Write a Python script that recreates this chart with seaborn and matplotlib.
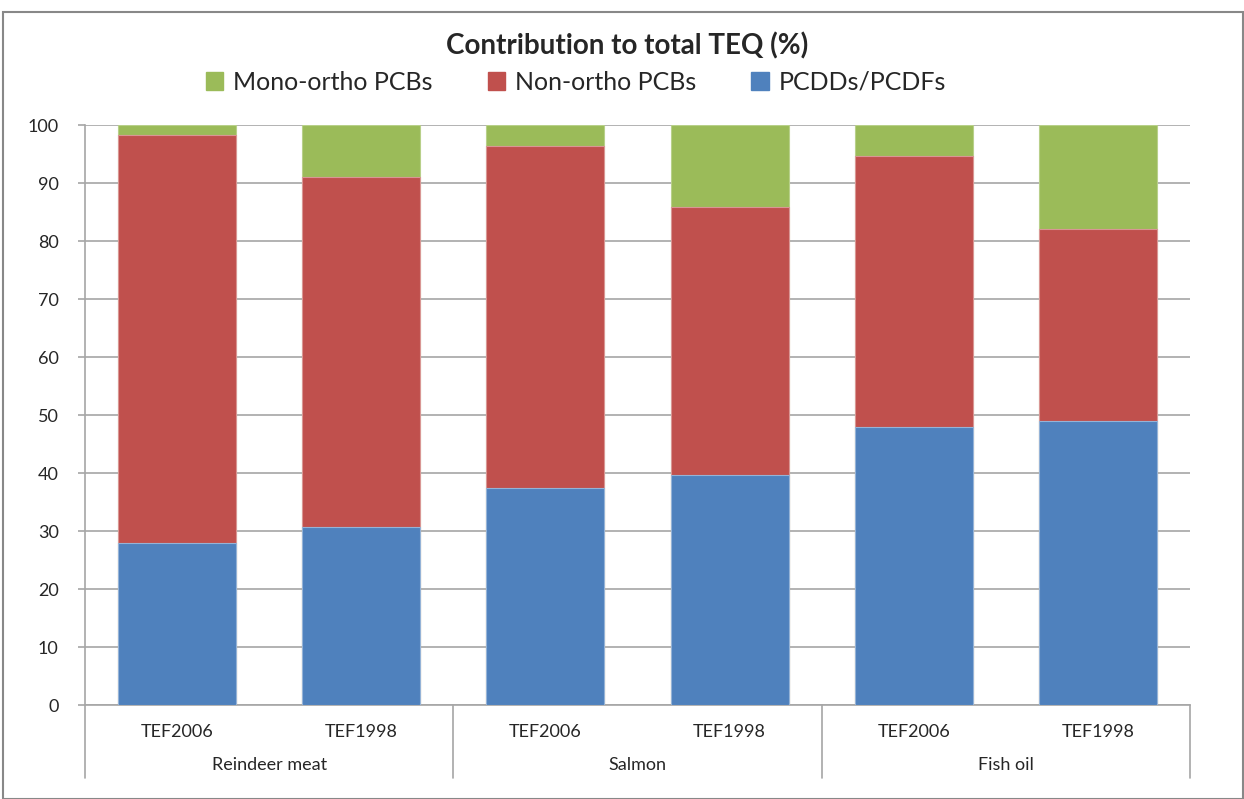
import matplotlib
matplotlib.use("Agg")
import matplotlib.pyplot as plt
import seaborn as sns
import pandas as pd
import numpy as np
from matplotlib.patches import Rectangle
from matplotlib.lines import Line2D

groups = ["Reindeer meat", "Salmon", "Fish oil"]
tefs = ["TEF2006", "TEF1998"]
pcdd = [27.9, 30.7, 37.5, 39.7, 47.9, 49.0]
non_ortho = [70.3, 60.3, 58.9, 46.1, 46.8, 33.1]
mono_ortho = [1.8, 9.0, 3.6, 14.2, 5.3, 17.9]
yticks = [0, 10, 20, 30, 40, 50, 60, 70, 80, 90, 100]

sns.set_theme(style="white")
plt.rcParams['font.family'] = ['Lato', 'DejaVu Sans']

keys = [f"{g}|{t}" for g in groups for t in tefs]
df = pd.DataFrame({
    "key": keys,
    "pcdd": pcdd,
    "non": non_ortho,
    "mono": mono_ortho,
})
df["lvl1"] = df["pcdd"]
df["lvl2"] = df["pcdd"] + df["non"]
df["lvl3"] = df["lvl2"] + df["mono"]

W, H = 1244, 799
fig = plt.figure(figsize=(W / 100, H / 100), dpi=100)
ax = fig.add_axes([85 / W, 1 - 705 / H, (1190 - 85) / W, (705 - 125) / H])

green = "#9BBB59"
red = "#C0504D"
blue = "#4F81BD"
bw = 0.64
sns.barplot(data=df, x="key", y="lvl3", order=keys, color=green, width=bw,
            saturation=1, ax=ax, edgecolor="#B8D08A", linewidth=0.8, zorder=2)
sns.barplot(data=df, x="key", y="lvl2", order=keys, color=red, width=bw,
            saturation=1, ax=ax, edgecolor="#D99694", linewidth=0.8, zorder=3)
sns.barplot(data=df, x="key", y="lvl1", order=keys, color=blue, width=bw,
            saturation=1, ax=ax, edgecolor="#95B3D7", linewidth=0.8, zorder=4)

ax.set_xlim(-0.5, 5.5)
ax.set_ylim(0, 100)
ax.set_yticks(yticks)
ax.set_yticklabels([str(v) for v in yticks], fontsize=13)
ax.yaxis.grid(True, color="#A6A6A6", linewidth=1.2, zorder=0)
ax.set_axisbelow(True)
ax.set_xlabel("")
ax.set_ylabel("")
ax.set_xticks(range(6))
ax.set_xticklabels([k.split("|")[1] for k in keys], fontsize=13)
ax.tick_params(axis="x", length=0, pad=14)
ax.tick_params(axis="y", length=5, width=1.2, color="#A6A6A6", left=True, pad=14)
for s in ["top", "right"]:
    ax.spines[s].set_visible(False)
for s in ["left", "bottom"]:
    ax.spines[s].set_color("#A6A6A6")
    ax.spines[s].set_linewidth(1.2)

# group separators and labels
sep_bottom = -(778 - 705) / (705 - 125)
for xs in [-0.5, 1.5, 3.5, 5.5]:
    ax.add_line(Line2D([xs, xs], [0, sep_bottom], transform=ax.get_xaxis_transform(),
                       color="#A6A6A6", linewidth=1.2, clip_on=False))
for i, g in enumerate(groups):
    ax.text(2 * i + 0.5, -(765 - 705) / (705 - 125), g, transform=ax.get_xaxis_transform(),
            ha="center", va="center", fontsize=13)

# title and legend
fig.text(627 / W, 1 - 46 / H, "Contribution to total TEQ (%)", ha="center", va="center",
         fontsize=20, fontweight="bold")
handles = [Rectangle((0, 0), 1, 1, color=green), Rectangle((0, 0), 1, 1, color=red),
           Rectangle((0, 0), 1, 1, color=blue)]
fig.legend(handles, ["Mono-ortho PCBs", "Non-ortho PCBs", "PCDDs/PCDFs"],
           loc="center", bbox_to_anchor=(576 / W, 1 - 82 / H), ncol=3, frameon=False,
           fontsize=18, handlelength=0.7, handleheight=0.7, handletextpad=0.4,
           columnspacing=2.2)

# outer border
fig.add_artist(Rectangle((3 / W, 0), (W - 4) / W, 1 - 12 / H, transform=fig.transFigure,
                         fill=False, edgecolor="#888888", linewidth=1.5))

fig.savefig("out.png", dpi=100)
